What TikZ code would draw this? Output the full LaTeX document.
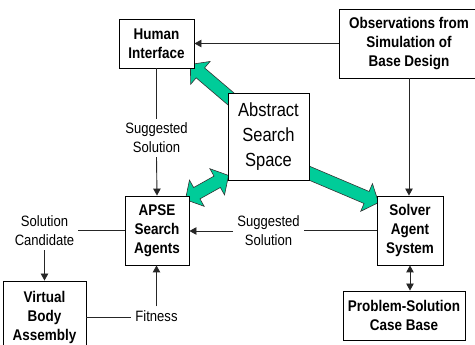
\documentclass[tikz,border=0pt]{standalone}
\usepackage{fontspec}
\setmainfont{Liberation Sans}[FakeStretch=0.87]
\usetikzlibrary{arrows.meta,calc,backgrounds}
\definecolor{flowgreen}{HTML}{00CC99}
\definecolor{flowedge}{HTML}{333333}

\tikzset{
  box/.style={draw=black, line width=0.9pt, fill=white, inner sep=0pt, align=center,
              font=\fontsize{15.5}{19}\selectfont\bfseries},
  lbl/.style={inner sep=4pt, align=center, font=\fontsize{15}{19}\selectfont},
  conn/.style={draw=black!85, line width=0.9pt},
  tip/.style={-{Triangle[length=7pt,width=7.5pt]}},
  tips/.style={{Triangle[length=7pt,width=7.5pt]}-{Triangle[length=7pt,width=7.5pt]}},
  fat/.style={fill=flowgreen, draw=flowedge, line width=0.6pt, line join=miter},
}

% broad block arrow from #1 (tail) to #2 (tip)
\newcommand\blockarrowsingle[2]{%
  \coordinate (ba-t) at (#1);
  \coordinate (ba-h) at (#2);
  \coordinate (ba-b) at ($(ba-h)!13pt!(ba-t)$);
  \draw[fat] ($(ba-t)!6.5pt!90:(ba-h)$) -- ($(ba-b)!6.5pt!90:(ba-h)$)
    -- ($(ba-b)!15pt!90:(ba-h)$) -- (ba-h) -- ($(ba-b)!15pt!-90:(ba-h)$)
    -- ($(ba-b)!6.5pt!-90:(ba-h)$) -- ($(ba-t)!6.5pt!-90:(ba-h)$) -- cycle;
}
% broad block arrow with heads at both ends
\newcommand\blockarrowdouble[2]{%
  \coordinate (ba-t) at (#1);
  \coordinate (ba-h) at (#2);
  \coordinate (ba-b) at ($(ba-h)!13pt!(ba-t)$);
  \coordinate (ba-c) at ($(ba-t)!13pt!(ba-h)$);
  \draw[fat] (ba-t) -- ($(ba-c)!15pt!90:(ba-h)$) -- ($(ba-c)!6.5pt!90:(ba-h)$)
    -- ($(ba-b)!6.5pt!90:(ba-h)$) -- ($(ba-b)!15pt!90:(ba-h)$) -- (ba-h)
    -- ($(ba-b)!15pt!-90:(ba-h)$) -- ($(ba-b)!6.5pt!-90:(ba-h)$)
    -- ($(ba-c)!6.5pt!-90:(ba-h)$) -- ($(ba-c)!15pt!-90:(ba-h)$) -- cycle;
}

\begin{document}
\begin{tikzpicture}[x=1pt, y=-1pt]
  \useasboundingbox (0,0) rectangle (475,345);
  \clip (0,0) rectangle (475,345);

  % boxes
  \node[box, minimum width=75pt, minimum height=49pt] (hi) at (156.5,43.5) {Human\\Interface};
  \node[box, minimum width=140pt, minimum height=69pt] (obs) at (409,43.5)
       {Observations from\\Simulation of\\Base Design};
  \node[box, minimum width=81pt, minimum height=87pt,
        font=\fontsize{19}{25}\selectfont] (ass) at (268.5,136.5) {Abstract\\Search\\Space};
  \node[box, minimum width=64pt, minimum height=69pt] (apse) at (157,230.5) {APSE\\Search\\Agents};
  \node[box, minimum width=66pt, minimum height=69pt] (sas) at (410,230.5) {Solver\\Agent\\System};
  \node[box, minimum width=122pt, minimum height=49pt] (pscb) at (404,315.5)
       {Problem-Solution\\Case Base};
  \node[box, minimum width=83pt, minimum height=72pt] (vba) at (44.5,317) {Virtual\\Body\\Assembly};

  % labels on the connectors
  \node[lbl] (sug1) at (156.5,138) {Suggested\\Solution};
  \node[lbl] (sug2) at (268.5,231) {Suggested\\Solution};
  \node[lbl] (cand) at (44.5,231) {Solution\\Candidate};
  \node[lbl] (fit)  at (156.5,316) {Fitness};

  % connectors
  \draw[conn, tip] (obs.west) -- (obs.west -| hi.east);
  \draw[conn, tip] (obs.south) -- (obs.south |- sas.north);
  \draw[conn] (hi.south) -- (sug1.north);
  \draw[conn, tip] (sug1.south) -- (apse.north);
  \draw[conn] (sas.west) -- (sas.west -| sug2.east);
  \draw[conn, tip] (sug2.west) -- (sug2.west -| apse.east);
  \draw[conn] (apse.west) -- (apse.west -| cand.east);
  \draw[conn, tip] (cand.south) -- (cand.south |- vba.north);
  \draw[conn] (vba.east) -- (vba.east -| fit.west);
  \draw[conn, tip] (fit.north) -- (fit.north |- apse.south);
  \draw[conn, tips] (sas.south) -- (sas.south |- pscb.north);

  % broad flows out of the search space, kept behind the boxes
  \begin{scope}[on background layer]
    \blockarrowsingle{$(ass.north west)+(10,12)$}{$(hi.south east)+(-4,-4)$}
    \blockarrowdouble{$(apse.north east)+(-4,4)$}{$(ass.south west)+(1,-5)$}
    \blockarrowsingle{$(ass.south east)+(-9,-11)$}{$(sas.north west)+(2,7)$}
  \end{scope}
\end{tikzpicture}
\end{document}
